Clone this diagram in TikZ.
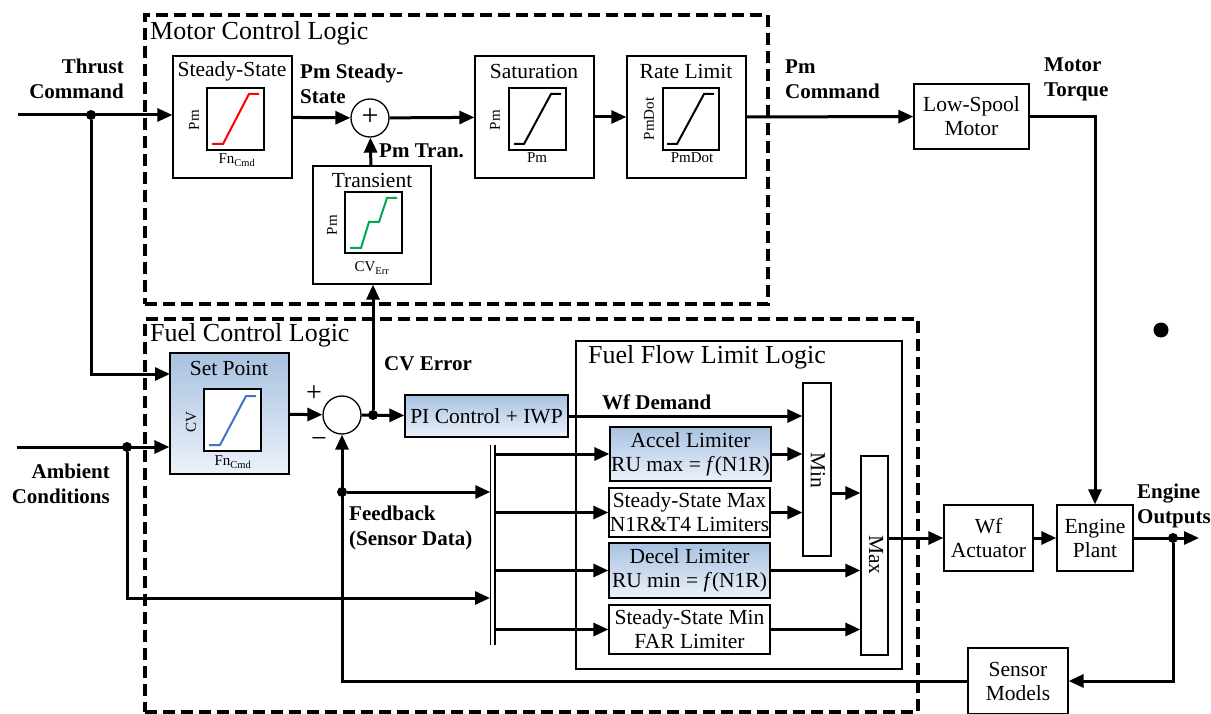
\documentclass[tikz,border=0pt]{standalone}
\usepackage{fontspec}
\setmainfont{Liberation Serif}
\usepackage{tikz}
\usetikzlibrary{fit,arrows.meta}
\definecolor{bltop}{RGB}{168,193,224}
\definecolor{blbot}{RGB}{236,242,250}
\definecolor{sgreen}{RGB}{0,168,80}
\definecolor{sblue}{RGB}{68,114,196}
\tikzstyle{blk} = [draw=black, line width=1.3pt, fill=white, inner sep=0pt]
\tikzstyle{blu} = [blk, top color=bltop, bottom color=blbot]
\tikzstyle{plot} = [draw=black, line width=1.3pt, fill=white, inner sep=0pt]
\tikzstyle{sum} = [draw=black, circle, line width=1.3pt, fill=white, minimum size=38pt, inner sep=0pt]
\tikzstyle{bt} = [font={\fontsize{21.5}{24}\selectfont}, align=center, inner sep=0pt]
\tikzstyle{ax} = [font={\fontsize{15}{17}\selectfont}, inner sep=0pt]
\tikzstyle{lbl} = [font={\bfseries\fontsize{21}{25}\selectfont}, inner sep=0pt]
\tikzstyle{ttl} = [font={\fontsize{26}{30}\selectfont}, anchor=west, inner sep=0pt]
\tikzstyle{sgn} = [font={\fontsize{28}{28}\selectfont}, inner sep=0pt]
\tikzstyle{grp} = [draw=black, line width=4pt, dash pattern=on 12pt off 6pt, inner sep=0pt]
\tikzstyle{wire} = [line width=3pt]
\tikzstyle{sig} = [wire, -{Triangle[length=15pt,width=13pt]}]
\tikzstyle{dot} = [circle, fill=black, inner sep=0pt, minimum size=10pt]

\begin{document}
\begin{tikzpicture}[x=1pt, y=-1pt]
    \useasboundingbox (0,0) rectangle (1211,714);
    \node[grp, fit={(145,15) (768,304)}](mcl){};
    \node[grp, fit={(145,319) (918,712)}](fcl){};
    \node[ttl](mclt) at (150,33){Motor Control Logic};
    \node[ttl](fclt) at (150,335){Fuel Control Logic};
    \node[blk, line width=1.1pt, fill=none, fit={(576,341) (902,669)}](ffl){};
    \node[ttl](fflt) at (588,357){Fuel Flow Limit Logic};

    \node[blk, minimum width=119pt, minimum height=122pt](ss) at (232.5,117){};
    \node[bt](sst) at (232,71){Steady-State};
    \node[plot, minimum width=57pt, minimum height=62pt](ssp) at (235.5,119){};
    \node[ax, rotate=90](ssy) at (194,120){Pm};
    \node[ax](ssx) at (237,160){Fn\textsubscript{Cmd}};
    \draw[red, line width=2pt] (212,144)--(223,144)--(249,94)--(259,94);

    \node[sum](pms) at (370,118){};
    \node[font={\fontsize{30}{30}\selectfont}, inner sep=0pt](pmp) at (370,117){+};

    \node[blk, minimum width=118pt, minimum height=118pt](tr) at (372,225){};
    \node[bt](trt) at (372,180){Transient};
    \node[plot, minimum width=57pt, minimum height=61pt](trp) at (373.5,222.5){};
    \node[ax, rotate=90](try) at (332,225){Pm};
    \node[ax](trx) at (372,268){CV\textsubscript{Err}};
    \draw[sgreen, line width=2pt] (350,248)--(361,248)--(369,222)--(379,222)--(387,198)--(397,198);

    \node[blk, minimum width=119pt, minimum height=122pt](sat) at (534.5,117){};
    \node[bt](satt) at (534,71){Saturation};
    \node[plot, minimum width=57pt, minimum height=62pt](satp) at (537.5,119){};
    \node[ax, rotate=90](saty) at (495,120){Pm};
    \node[ax](satx) at (537,158){Pm};
    \draw[line width=2pt] (514,144)--(524,144)--(551,94)--(561,94);

    \node[blk, minimum width=119pt, minimum height=122pt](rl) at (686.5,117){};
    \node[bt](rlt) at (686,71){Rate Limit};
    \node[plot, minimum width=56pt, minimum height=62pt](rlp) at (691,119){};
    \node[ax, rotate=90](rly) at (649,119){PmDot};
    \node[ax](rlx) at (692,158){PmDot};
    \draw[line width=2pt] (667,144)--(677,144)--(704,94)--(714,94);

    \node[blk, minimum width=115pt, minimum height=65pt](lsm) at (971.5,116.5){};
    \node[bt](lsmt) at (971.5,116.5){Low-Spool\\Motor};

    \node[blu, minimum width=119pt, minimum height=121pt](sp) at (229.5,413.5){};
    \node[bt](spt) at (229,368){Set Point};
    \node[plot, minimum width=57pt, minimum height=62pt](spp) at (232.5,420){};
    \node[ax, rotate=90](spy) at (191,422){CV};
    \node[ax](spx) at (233,462){Fn\textsubscript{Cmd}};
    \draw[sblue, line width=2pt] (209,445)--(220,445)--(246,396)--(256,396);

    \node[sum](fs) at (342,415){};
    \node[sgn](fsp) at (314,394){+};
    \node[sgn](fsm) at (319,443){−};

    \node[blu, minimum width=163pt, minimum height=42pt](pi) at (486.5,416){};
    \node[bt](pit) at (486.5,416){PI Control + IWP};

    \node[blu, minimum width=161pt, minimum height=54pt](acc) at (690.5,454){};
    \node[bt](acct) at (690.5,454){Accel Limiter\\RU max = \textit{f}(N1R)};
    \node[blk, minimum width=161pt, minimum height=49pt](ssx1) at (689.5,512.5){};
    \node[bt](ssx1t) at (689.5,512.5){Steady-State Max\\N1R\&T4 Limiters};
    \node[blu, minimum width=161pt, minimum height=55pt](dec) at (689.5,570.5){};
    \node[bt](dect) at (689.5,570.5){Decel Limiter\\RU min = \textit{f}(N1R)};
    \node[blk, minimum width=161pt, minimum height=49pt](ssn) at (689.5,629.5){};
    \node[bt](ssnt) at (689.5,629.5){Steady-State Min\\FAR Limiter};

    \node[blk, minimum width=28pt, minimum height=173pt](mn) at (817,469.5){};
    \node[bt, rotate=-90](mnt) at (818,470){Min};
    \node[blk, minimum width=27pt, minimum height=199pt](mx) at (874.5,555.5){};
    \node[bt, rotate=-90](mxt) at (876,555){Max};

    \node[inner sep=0pt, minimum width=4pt, minimum height=200pt](bus) at (492.5,545){};
    \draw[line width=1.6pt] (bus.north west)--(bus.south west) (bus.north east)--(bus.south east);

    \node[blk, minimum width=89pt, minimum height=66pt](wf) at (988.5,538){};
    \node[bt](wft) at (988.5,538){Wf\\Actuator};
    \node[blk, minimum width=76pt, minimum height=66pt](plant) at (1095,538){};
    \node[bt](plantt) at (1095,538){Engine\\Plant};
    \node[blk, minimum width=100pt, minimum height=66pt](sm) at (1018,681){};
    \node[bt](smt) at (1018,681){Sensor\\Models};

    \node[lbl, anchor=east, align=right](thr) at (124,79){Thrust\\Command};
    \node[lbl, anchor=east, align=right](amb) at (110,484){Ambient\\Conditions};
    \node[lbl, anchor=west, align=left](pmss) at (300,84){Pm Steady-\\State};
    \node[lbl, anchor=west](pmtr) at (379,151){Pm Tran.};
    \node[lbl, anchor=west, align=left](pmc) at (785,79){Pm\\Command};
    \node[lbl, anchor=west, align=left](mtq) at (1044,79){Motor\\Torque};
    \node[lbl, anchor=west, align=left](eout) at (1137,506){Engine\\Outputs};
    \node[lbl, anchor=west](cve) at (384,364){CV Error};
    \node[lbl, anchor=west](wfd) at (602,402){Wf Demand};
    \node[lbl, anchor=west, align=left](fb) at (349,528){Feedback\\(Sensor Data)};

    \coordinate (tin) at (18,115);
    \node[dot](tj) at (91,115){};
    \coordinate (spa) at (170,374);
    \coordinate (ain) at (17,447);
    \node[dot](aj) at (127,447){};
    \node[dot](cvj) at (373,415){};
    \node[dot](fbj) at (342,492){};
    \coordinate (bin) at (490,598);
    \coordinate (mno) at (831,493);
    \node[dot](ej) at (1173,538){};
    \coordinate (eo) at (1199,538);
    \node[dot, minimum size=15pt](dd) at (1161,330){};

    \draw[sig] (tin)--(tin -| ss.west);
    \draw[sig] (tj) |- (spa);
    \draw[sig] (ss)--(pms);
    \draw[sig] (tr)--(pms);
    \draw[sig] (pms)--(sat);
    \draw[sig] (sat)--(rl);
    \draw[sig] (rl)--(lsm);
    \draw[sig] (lsm) -| (plant);
    \draw[sig] (ain)--(ain -| sp.west);
    \draw[sig] (aj) |- (bin);
    \draw[sig] (sp)--(fs);
    \draw[sig] (fs)--(pi);
    \draw[sig] (cvj)--(cvj |- tr.south);
    \draw[sig] (fbj)--(fbj -| bus.west);
    \draw[sig] (pi.east)--(pi.east -| mn.west);
    \draw[sig] (acc -| bus.east)--(acc);
    \draw[sig] (ssx1 -| bus.east)--(ssx1);
    \draw[sig] (dec -| bus.east)--(dec);
    \draw[sig] (ssn -| bus.east)--(ssn);
    \draw[sig] (acc)--(acc -| mn.west);
    \draw[sig] (ssx1)--(ssx1 -| mn.west);
    \draw[sig] (dec)--(dec -| mx.west);
    \draw[sig] (ssn)--(ssn -| mx.west);
    \draw[sig] (mno)--(mno -| mx.west);
    \draw[sig] (mx.east |- wf)--(wf);
    \draw[sig] (wf)--(plant);
    \draw[sig] (plant)--(eo);
    \draw[sig] (ej) |- (sm);
    \draw[sig] (sm) -| (fs);
  \end{tikzpicture}
\end{document}
